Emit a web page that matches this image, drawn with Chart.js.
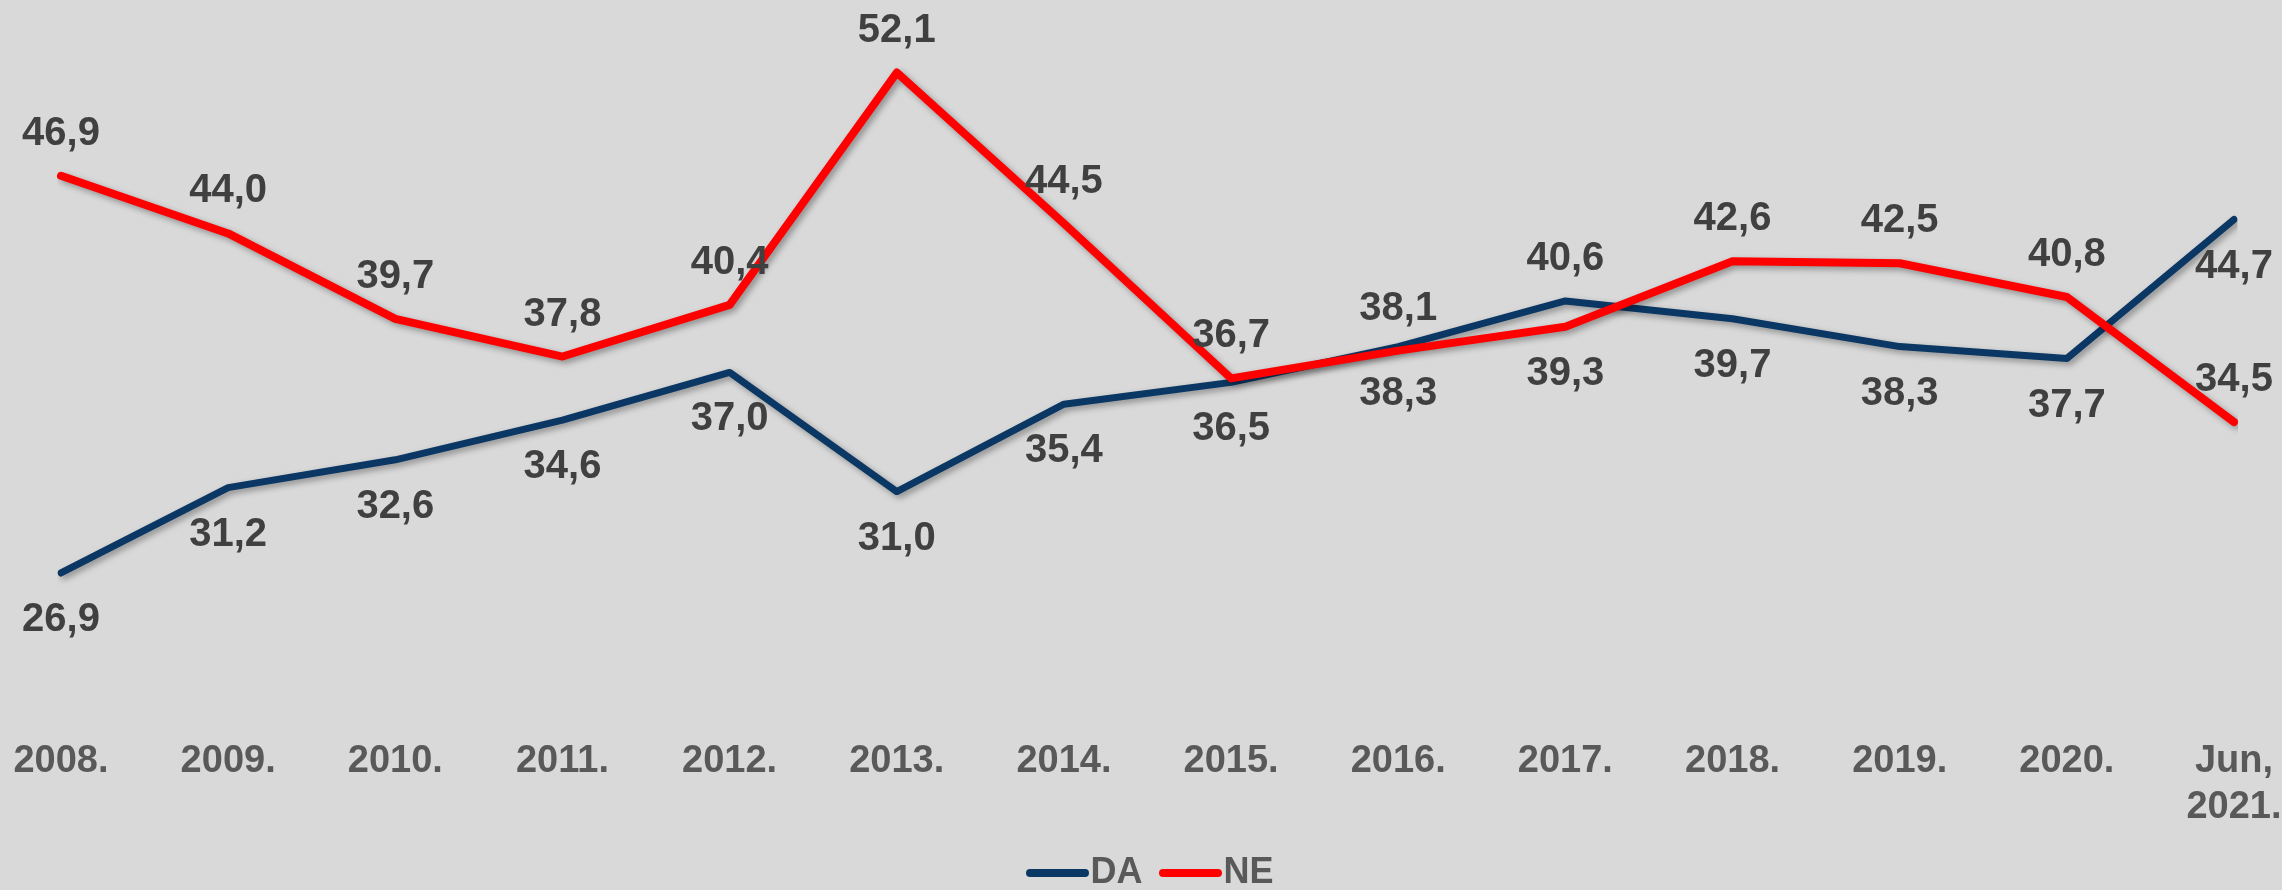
<!DOCTYPE html>
<html>
<head>
<meta charset="utf-8">
<script src="https://cdn.jsdelivr.net/npm/chart.js@4.4.1/dist/chart.umd.min.js"></script>
<style>
    html, body { margin: 0; padding: 0; background: #d9d9d9; }
    #wrap { width: 2282px; height: 890px; position: relative; }
</style>
</head>
<body>
<div id="wrap"><canvas id="trendChart"></canvas></div>
<script>
// Data
const categories = ['2008.', '2009.', '2010.', '2011.', '2012.', '2013.', '2014.',
    '2015.', '2016.', '2017.', '2018.', '2019.', '2020.', ['Jun,', '2021.']];
const daValues = [26.9, 31.2, 32.6, 34.6, 37.0, 31.0, 35.4, 36.5, 38.3, 40.6, 39.7, 38.3, 37.7, 44.7];
const neValues = [46.9, 44.0, 39.7, 37.8, 40.4, 52.1, 44.5, 36.7, 38.1, 39.3, 42.6, 42.5, 40.8, 34.5];

// Where each value label sits relative to its point
const daLabelSide = ['below', 'below', 'below', 'below', 'below', 'below', 'below',
    'below', 'below', 'above', 'below', 'below', 'below', 'below'];
const neLabelSide = ['above', 'above', 'above', 'above', 'above', 'above', 'above',
    'above', 'above', 'below', 'above', 'above', 'above', 'above'];

const FONT = "'Liberation Sans', Arial, sans-serif";
const DA_COLOR = '#0a3764';
const NE_COLOR = '#ff0000';

// Legend marker: a short rounded line, shifted right so it sits close to the text
function legendLine(color) {
    const c = document.createElement('canvas');
    c.width = 86;
    c.height = 12;
    const g = c.getContext('2d');
    g.strokeStyle = color;
    g.lineWidth = 8;
    g.lineCap = 'round';
    g.beginPath();
    g.moveTo(26, 6);
    g.lineTo(81, 6);
    g.stroke();
    return c;
}

// Soft drop shadow under each line
const lineShadow = {
    id: 'lineShadow',
    beforeDatasetDraw: function(chart) {
        const ctx = chart.ctx;
        ctx.save();
        ctx.shadowColor = 'rgba(0, 0, 0, 0.35)';
        ctx.shadowBlur = 6;
        ctx.shadowOffsetX = 3;
        ctx.shadowOffsetY = 3;
    },
    afterDatasetDraw: function(chart) {
        chart.ctx.restore();
    }
};

// Value labels above / below the points
const valueLabels = {
    id: 'valueLabels',
    afterDatasetsDraw: function(chart) {
        const ctx = chart.ctx;
        ctx.save();
        ctx.font = 'bold 40px ' + FONT;
        ctx.fillStyle = '#404040';
        ctx.textAlign = 'center';
        ctx.textBaseline = 'middle';
        chart.data.datasets.forEach((ds, i) => {
            const meta = chart.getDatasetMeta(i);
            meta.data.forEach((pt, j) => {
                const dy = ds.labelSide[j] === 'above' ? -42 : 47;
                const text = ds.data[j].toFixed(1).replace('.', ',');
                ctx.fillText(text, pt.x, pt.y + dy);
            });
        });
        ctx.restore();
    }
};

new Chart(document.getElementById('trendChart'), {
    type: 'line',
    data: {
        labels: categories,
        datasets: [
            {
                label: 'DA',
                data: daValues,
                labelSide: daLabelSide,
                borderColor: DA_COLOR,
                backgroundColor: DA_COLOR,
                borderWidth: 7,
                borderCapStyle: 'round',
                borderJoinStyle: 'round',
                pointRadius: 0,
                pointStyle: legendLine(DA_COLOR),
                tension: 0,
                order: 1
            },
            {
                label: 'NE',
                data: neValues,
                labelSide: neLabelSide,
                borderColor: NE_COLOR,
                backgroundColor: NE_COLOR,
                borderWidth: 8,
                borderCapStyle: 'round',
                borderJoinStyle: 'round',
                pointRadius: 0,
                pointStyle: legendLine(NE_COLOR),
                tension: 0,
                order: 0
            }
        ]
    },
    options: {
        responsive: true,
        maintainAspectRatio: false,
        animation: false,
        layout: {
            padding: { left: 61, right: 48, top: 15, bottom: -11 }
        },
        plugins: {
            legend: {
                position: 'bottom',
                labels: {
                    usePointStyle: true,
                    pointStyleWidth: 51,
                    boxHeight: 8,
                    padding: 12,
                    color: '#595959',
                    font: { family: FONT, size: 36, weight: 'bold' },
                    sort: (a, b) => a.datasetIndex - b.datasetIndex
                }
            },
            tooltip: { enabled: false }
        },
        scales: {
            x: {
                grid: { display: false, drawTicks: false },
                border: { display: false },
                ticks: {
                    color: '#595959',
                    padding: 29,
                    maxRotation: 0,
                    autoSkip: false,
                    font: { family: FONT, size: 38, weight: 'bold' }
                },
                // points run edge to edge of the padded area; fixed axis band height
                afterFit: function(scale) {
                    scale.paddingLeft = 0;
                    scale.paddingRight = 0;
                    scale.height = 133;
                }
            },
            y: {
                display: false,
                min: 20,
                max: 55
            }
        }
    },
    plugins: [lineShadow, valueLabels]
});
</script>
</body>
</html>
